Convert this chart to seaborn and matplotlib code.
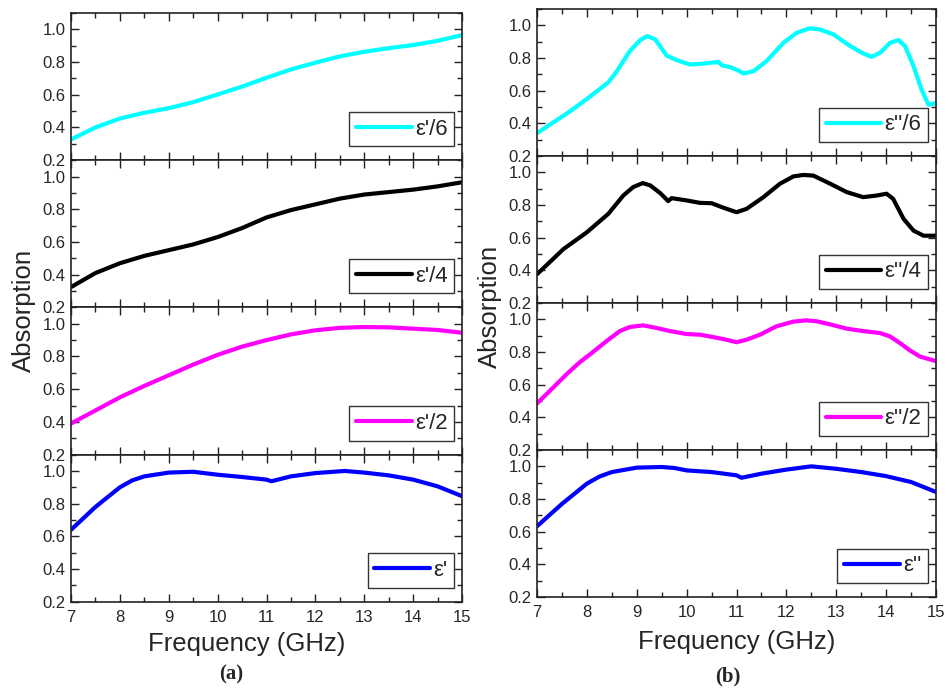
import numpy as np
import pandas as pd
import matplotlib
matplotlib.use("Agg")
import matplotlib.pyplot as plt
from matplotlib.ticker import MultipleLocator
import seaborn as sns

# ---- data: absorption vs frequency (GHz) ----
freq_a = [7.0, 7.5, 8.0, 8.5, 9.0, 9.5, 10.0, 10.5, 11.0, 11.5, 12.0, 12.5, 13.0, 13.5, 14.0, 14.5, 15.0]
eps_r_6 = [0.327, 0.40, 0.455, 0.49, 0.518, 0.555, 0.602, 0.65, 0.704, 0.755, 0.796, 0.835, 0.863, 0.885, 0.904, 0.93, 0.965]
eps_r_4 = [0.324, 0.41, 0.47, 0.515, 0.55, 0.585, 0.63, 0.685, 0.75, 0.795, 0.83, 0.865, 0.89, 0.905, 0.92, 0.94, 0.965]
eps_r_2 = [0.39, 0.47, 0.55, 0.62, 0.685, 0.75, 0.81, 0.86, 0.90, 0.935, 0.96, 0.975, 0.98, 0.978, 0.97, 0.962, 0.945]

freq_a1 = [7.0, 7.5, 8.0, 8.25, 8.5, 9.0, 9.5, 10.0, 10.5, 11.0, 11.1, 11.5, 12.0, 12.6, 13.0, 13.5, 14.0, 14.5, 15.0]
eps_r_1 = [0.64, 0.78, 0.90, 0.942, 0.967, 0.99, 0.995, 0.977, 0.963, 0.947, 0.937, 0.967, 0.987, 1.0, 0.99, 0.973, 0.947, 0.906, 0.846]

freq_b6 = [7.0, 7.66, 8.0, 8.43, 8.6, 8.86, 9.07, 9.21, 9.37, 9.6, 9.8, 10.07, 10.27, 10.64, 10.7, 10.87,
           11.04, 11.14, 11.34, 11.6, 11.94, 12.21, 12.47, 12.67, 12.94, 13.28, 13.54, 13.71, 13.88, 14.08,
           14.25, 14.38, 14.55, 14.71, 14.85, 14.95, 15.0]
eps_i_6 = [0.34, 0.473, 0.549, 0.651, 0.719, 0.842, 0.91, 0.934, 0.914, 0.815, 0.787, 0.76, 0.764, 0.776, 0.756, 0.744,
           0.723, 0.705, 0.719, 0.78, 0.893, 0.955, 0.982, 0.975, 0.945, 0.873, 0.828, 0.807, 0.832, 0.893,
           0.91, 0.873, 0.75, 0.606, 0.514, 0.52, 0.524]

freq_b4 = [7.0, 7.53, 8.0, 8.43, 8.73, 8.93, 9.12, 9.27, 9.47, 9.63, 9.7, 10.0, 10.27, 10.5, 10.74, 11.0,
           11.2, 11.54, 11.87, 12.14, 12.34, 12.54, 12.88, 13.21, 13.54, 13.81, 14.01, 14.14, 14.35, 14.55,
           14.75, 15.0]
eps_i_4 = [0.376, 0.53, 0.633, 0.746, 0.858, 0.91, 0.934, 0.92, 0.873, 0.824, 0.842, 0.828, 0.813, 0.811, 0.783, 0.756,
           0.776, 0.848, 0.93, 0.975, 0.984, 0.98, 0.93, 0.879, 0.848, 0.858, 0.869, 0.838, 0.715, 0.643,
           0.612, 0.612]

freq_b2 = [7.0, 7.33, 7.6, 7.86, 8.06, 8.4, 8.66, 8.86, 9.13, 9.4, 9.67, 10.0, 10.27, 10.54, 10.8, 11.0,
           11.2, 11.47, 11.8, 12.14, 12.4, 12.61, 12.88, 13.21, 13.54, 13.88, 14.08, 14.28, 14.48, 14.68, 15.0]
eps_i_2 = [0.485, 0.584, 0.666, 0.738, 0.785, 0.868, 0.928, 0.953, 0.963, 0.947, 0.928, 0.91, 0.906, 0.891, 0.875, 0.86,
           0.875, 0.906, 0.957, 0.986, 0.994, 0.988, 0.969, 0.943, 0.928, 0.916, 0.895, 0.854, 0.809, 0.772, 0.744]

freq_b1 = [7.0, 7.5, 8.0, 8.25, 8.5, 9.0, 9.5, 9.75, 10.0, 10.5, 11.0, 11.1, 11.5, 12.0, 12.5, 13.0, 13.5, 14.0, 14.5, 15.0]
eps_i_1 = [0.633, 0.77, 0.894, 0.937, 0.965, 0.992, 0.996, 0.99, 0.975, 0.965, 0.945, 0.93, 0.955, 0.98, 1.0, 0.985, 0.965, 0.94, 0.904, 0.843]

left_series = [
    (freq_a, eps_r_6, "ε'/6", "#00FFFF"),
    (freq_a, eps_r_4, "ε'/4", "#000000"),
    (freq_a, eps_r_2, "ε'/2", "#FF00FF"),
    (freq_a1, eps_r_1, "ε'", "#0000FF"),
]
right_series = [
    (freq_b6, eps_i_6, "ε''/6", "#00FFFF"),
    (freq_b4, eps_i_4, "ε''/4", "#000000"),
    (freq_b2, eps_i_2, "ε''/2", "#FF00FF"),
    (freq_b1, eps_i_1, "ε''", "#0000FF"),
]

sns.set_theme(style="ticks")
plt.rcParams["font.family"] = ["Liberation Sans", "DejaVu Sans"]
plt.rcParams["axes.linewidth"] = 1.2

W, H = 951, 688
fig = plt.figure(figsize=(W / 100, H / 100), dpi=100)


def add_column(series, x_left, x_right, top, panel_h):
    axes = []
    for i, (fx, fy, label, color) in enumerate(series):
        y_top = top + panel_h * i
        ax = fig.add_axes([x_left / W, 1 - (y_top + panel_h) / H,
                           (x_right - x_left) / W, panel_h / H])
        df = pd.DataFrame({"Frequency": fx, "Absorption": fy})
        sns.lineplot(data=df, x="Frequency", y="Absorption", ax=ax,
                     color=color, lw=3.0, label=label)
        ax.set_xlim(7, 15)
        ax.set_ylim(0.2, 1.1)
        ax.xaxis.set_major_locator(MultipleLocator(1))
        ax.xaxis.set_minor_locator(MultipleLocator(0.5))
        ax.yaxis.set_minor_locator(MultipleLocator(0.1))
        ax.set_yticks([0.2, 0.4, 0.6, 0.8, 1.0])
        ax.set_yticklabels(["0.2", "0.4", "0.6", "0.8", "1.0"])
        ax.tick_params(which="both", direction="in", top=True, right=True,
                       color="#222222", width=1.0)
        ax.tick_params(which="major", length=6, labelsize=12)
        ax.tick_params(which="minor", length=3.5)
        ax.tick_params(axis="y", pad=4)
        ax.tick_params(axis="x", pad=6)
        ax.set_xlabel("")
        ax.set_ylabel("")
        if i < len(series) - 1:
            ax.tick_params(axis="x", labelbottom=False)
        else:
            ax.set_xticks(range(7, 16))
            ax.set_xticklabels([str(v) for v in range(7, 16)])
        for s in ax.spines.values():
            s.set_color("#222222")
        leg = ax.legend(loc="lower right", bbox_to_anchor=(0.98, 0.095),
                        fontsize=16, frameon=True, fancybox=False,
                        handlelength=2.5, handletextpad=0.15,
                        borderpad=0.3, borderaxespad=0.0)
        leg.get_frame().set_edgecolor("#333333")
        leg.get_frame().set_linewidth(1.0)
        leg.get_frame().set_alpha(1)
        axes.append(ax)
    return axes


add_column(left_series, 71, 462, 13, 147.2)
add_column(right_series, 537, 936, 9, 147.0)

# shared axis titles
for x, y in [(24, 310), (490, 306)]:
    fig.text(x / W, 1 - y / H, "Absorption", rotation=90, ha="center",
             va="center", fontsize=18.5)
for x, y in [(247, 644), (737, 642)]:
    fig.text(x / W, 1 - y / H, "Frequency (GHz)", ha="center", va="center",
             fontsize=18.5)
for x, y, t in [(231, 674, "(a)"), (728, 676, "(b)")]:
    fig.text(x / W, 1 - y / H, t, ha="center", va="center", fontsize=15,
             fontweight="bold", family="Liberation Serif")

fig.savefig("out.png", dpi=100, facecolor="white")
